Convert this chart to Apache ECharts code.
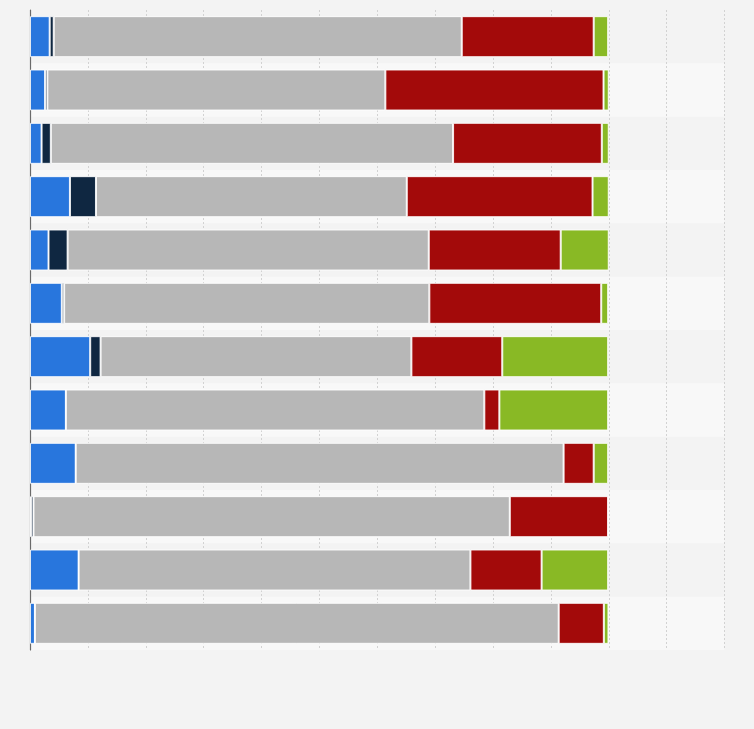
<!DOCTYPE html>
<html>
<head>
<meta charset="utf-8">
<script src="https://cdn.jsdelivr.net/npm/echarts@6/dist/echarts.min.js"></script>
<style>
html,body{margin:0;padding:0;background:#f3f3f3;}
#chart{width:754px;height:729px;}
</style>
</head>
<body>
<div id="chart"></div>
<script>
const categories = ['1','2','3','4','5','6','7','8','9','10','11','12'];
const blueVals  = [3.4, 2.6, 2.0, 6.9, 3.2, 5.5, 10.4, 6.2, 7.9, 0.2, 8.4, 0.85];
const navyVals  = [0.7, 0.4, 1.6, 4.5, 3.3, 0.4, 1.8, 0, 0, 0.4, 0, 0];
const grayVals  = [70.5, 58.4, 69.5, 53.7, 62.4, 63.1, 53.7, 72.3, 84.3, 82.3, 67.7, 90.5];
const redVals   = [22.8, 37.7, 25.7, 32.1, 22.8, 29.7, 15.7, 2.6, 5.2, 17.0, 12.3, 7.8];
const greenVals = [2.5, 0.9, 1.2, 2.8, 8.3, 1.2, 18.3, 18.8, 2.5, 0, 11.5, 0.8];
const seriesNames = ['Series A','Series B','Series C','Series D','Series E'];
const seriesColors = ['#2876dd','#0f2741','#b7b7b7','#a30a0a','#89b925'];
const allVals = [blueVals, navyVals, grayVals, redVals, greenVals];

const chart = echarts.init(document.getElementById('chart'));
chart.setOption({
  backgroundColor: '#f3f3f3',
  animation: false,
  grid: { left: 30, right: 29.5, top: 10, bottom: 79, containLabel: false },
  xAxis: {
    type: 'value', min: 0, max: 120, interval: 10,
    axisLabel: { show: false },
    axisLine: { show: false },
    axisTick: { show: false },
    splitLine: { show: true, lineStyle: { color: '#d2d2d2', type: [2, 2], width: 1 } }
  },
  yAxis: {
    type: 'category', data: categories, inverse: true,
    axisLabel: { show: false },
    axisTick: { show: false },
    axisLine: { show: true, lineStyle: { color: '#6a6a6a', width: 1.2 } },
    splitArea: { show: true, areaStyle: { color: ['rgba(255,255,255,0)', 'rgba(255,255,255,0.45)'] } }
  },
  series: allVals.map((vals, i) => ({
    name: seriesNames[i],
    type: 'bar',
    stack: 'total',
    barWidth: 41,
    data: vals,
    itemStyle: { color: seriesColors[i], borderColor: 'rgba(255,255,255,0.85)', borderWidth: 1 }
  }))
});
</script>
</body>
</html>
